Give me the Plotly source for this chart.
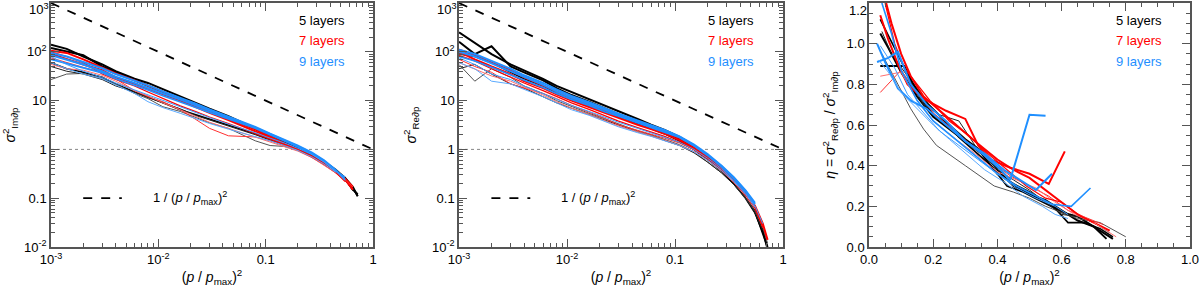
import plotly.graph_objects as go

# ---------------- data ----------------
X_LOG = [0.001, 0.0014, 0.002, 0.003, 0.004, 0.006, 0.008, 0.011, 0.016, 0.022, 0.03,
         0.045, 0.06, 0.08, 0.11, 0.15, 0.2, 0.27, 0.35, 0.45, 0.55, 0.65, 0.72]

IM_5 = [
    [140, 115, 80, 55, 40, 28, 23, 17, 12, 9, 6.8, 4.8, 3.6, 2.7, 1.9, 1.4, 1.05, 0.78, 0.56, 0.38, 0.26, 0.17, 0.11],
    [120, 100, 85, 50, 38, 26, 20, 15, 11, 8.3, 6.3, 4.4, 3.4, 2.6, 1.85, 1.35, 1.0, 0.74, 0.53, 0.36, 0.25, 0.15, 0.12],
    [60, 45, 38, 30, 22, 15, 12, 9, 6.5, 5.2, 4.2, 3.1, 2.6, 2.1, 1.6, 1.25, 0.97, 0.72, 0.52, 0.36, 0.24, 0.16, 0.11],
    [27, 35, 36, 28, 22, 14, 11, 7.5, 6, 4.5, 3.5, 2.7, 2.0, 1.5, 1.2, 1.15, 0.95, 0.72, 0.5, 0.34, 0.23, 0.15, None],
    [50, 40, 35, 27, 20, 15, 11.5, 9, 6.8, 5, 4, 3, 2.5, 2, 1.55, 1.2, 0.95, 0.7, 0.5, 0.35, 0.24, 0.14, None],
]
IM_7 = [
    [105, 95, 70, 48, 36, 26, 20, 15, 11, 8.3, 6.3, 4.4, 3.4, 2.6, 1.85, 1.35, 1.0, 0.72, 0.52, 0.35, 0.25, 0.17, None],
    [90, 70, 55, 42, 30, 22, 17.5, 13.5, 10, 7.5, 5.6, 4, 3.1, 2.4, 1.75, 1.3, 0.98, 0.7, 0.5, 0.34, 0.24, 0.15, None],
    [75, 60, 48, 38, 28, 16, 12, 9.5, 6.5, 4.2, 2.7, 1.9, 1.85, 1.8, 1.5, 1.2, 0.95, 0.7, 0.5, 0.34, 0.24, 0.17, None],
    [55, 45, 42, 33, 25, 16, 12.5, 9, 6.5, 4.8, 3.6, 2.7, 2.2, 1.8, 1.45, 1.15, 0.92, 0.68, 0.48, 0.33, 0.24, None, None],
    [100, 80, 60, 35, 27, 20, 15, 11, 7.8, 6, 4.6, 3.4, 2.7, 2.1, 1.6, 1.25, 0.97, 0.7, 0.5, 0.34, 0.22, None, None],
]
IM_9 = [
    [95, 80, 62, 46, 35, 26, 20.5, 15.5, 11.5, 8.7, 6.6, 4.7, 3.7, 2.9, 2.1, 1.6, 1.2, 0.86, 0.6, 0.38, 0.24, None, None],
    [85, 70, 55, 40, 31, 23, 18, 14, 10.5, 8, 6.1, 4.4, 3.5, 2.8, 2.05, 1.55, 1.15, 0.83, 0.58, 0.37, None, None, None],
    [70, 58, 48, 37, 28, 21, 16.5, 12.5, 9.5, 7.3, 5.7, 4.2, 3.4, 2.7, 2.0, 1.5, 1.12, 0.8, 0.56, 0.36, 0.27, None, None],
    [60, 45, 35, 28, 21, 14, 9.5, 7.2, 5.5, 4.3, 3.4, 2.6, 2.2, 1.85, 1.5, 1.2, 0.95, 0.7, 0.5, 0.34, None, None, None],
    [80, 55, 40, 30, 23, 16.5, 13, 10, 7.5, 5.8, 4.5, 3.3, 2.7, 2.2, 1.7, 1.35, 1.05, 0.78, 0.55, 0.36, 0.23, None, None],
]

RE_5 = [
    [250, 150, 90, 55, 42, 28, 20, 15, 11, 8, 6, 4.2, 3.2, 2.5, 1.8, 1.2, 0.72, 0.4, 0.22, 0.11, 0.055, 0.022, 0.009],
    [160, 90, 130, 50, 38, 26, 18, 13, 9.5, 7.2, 5.3, 3.7, 2.9, 2.3, 1.65, 1.1, 0.68, 0.38, 0.21, 0.11, 0.055, 0.02, 0.01],
    [90, 80, 60, 38, 28, 20, 14, 10.5, 7.8, 6, 4.7, 3.4, 2.7, 2.1, 1.5, 1.0, 0.62, 0.36, 0.2, 0.1, 0.05, 0.02, None],
    [55, 25, 45, 30, 20, 14, 10, 7.5, 5.5, 4.3, 3.3, 2.4, 2.0, 1.6, 1.25, 0.9, 0.55, 0.33, 0.19, 0.1, 0.055, 0.025, 0.012],
    [45, 55, 35, 22, 18, 12, 9, 7, 5.2, 4, 3.1, 2.3, 1.9, 1.55, 1.2, 0.85, 0.55, 0.33, 0.19, 0.1, 0.05, 0.022, None],
]
RE_7 = [
    [110, 85, 60, 42, 30, 20, 15.5, 11.5, 8.5, 6.4, 5, 3.6, 2.9, 2.3, 1.7, 1.15, 0.72, 0.42, 0.24, 0.13, 0.07, 0.03, 0.014],
    [100, 70, 50, 35, 25, 18, 13.5, 10, 7.4, 5.7, 4.4, 3.2, 2.6, 2.1, 1.55, 1.05, 0.68, 0.4, 0.23, 0.12, 0.065, 0.028, None],
    [70, 50, 38, 22, 18, 14, 11, 8, 5.8, 4.4, 3.2, 2.5, 2.1, 1.7, 1.35, 0.98, 0.64, 0.38, 0.22, 0.12, 0.065, 0.025, None],
    [60, 45, 32, 25, 19, 13, 9.5, 7, 5.2, 4, 3.0, 2.3, 1.9, 1.55, 1.2, 0.9, 0.6, 0.36, 0.21, 0.11, 0.06, None, None],
    [85, 65, 45, 30, 23, 16, 12, 9, 6.6, 5, 3.8, 2.8, 2.3, 1.85, 1.4, 1.0, 0.64, 0.38, 0.22, 0.12, 0.065, 0.025, None],
]
RE_9 = [
    [110, 90, 65, 45, 33, 23, 17, 12.5, 9.3, 7, 5.4, 3.9, 3.1, 2.5, 1.85, 1.25, 0.8, 0.46, 0.27, 0.145, 0.08, None, None],
    [100, 80, 58, 40, 30, 21, 15.5, 11.5, 8.6, 6.5, 5.1, 3.7, 3.0, 2.4, 1.8, 1.2, 0.77, 0.45, 0.26, 0.14, 0.075, None, None],
    [80, 65, 48, 34, 26, 18.5, 14, 10.5, 7.9, 6, 4.8, 3.5, 2.85, 2.3, 1.75, 1.18, 0.75, 0.44, 0.25, 0.135, None, None, None],
    [60, 45, 25, 22, 17, 12, 9, 6.5, 5, 3.8, 2.9, 2.2, 1.85, 1.5, 1.2, 0.9, 0.6, 0.37, 0.22, 0.12, 0.065, None, None],
    [75, 55, 35, 27, 20, 14, 10.5, 8, 6, 4.6, 3.6, 2.7, 2.2, 1.8, 1.4, 1.0, 0.66, 0.4, 0.23, 0.125, 0.07, 0.03, None],
]

# eta = Re/Im, each line with its own sampling
ETA_5_X = [
    [0.035, 0.06, 0.1, 0.15, 0.2, 0.25, 0.3, 0.35, 0.4, 0.45, 0.5, 0.55, 0.6, 0.65, 0.7, 0.76],
    [0.035, 0.11, 0.15, 0.2, 0.25, 0.3, 0.36, 0.4, 0.45, 0.5, 0.55, 0.6, 0.65, 0.7, 0.74],
    [0.035, 0.08, 0.13, 0.18, 0.23, 0.28, 0.33, 0.38, 0.43, 0.48, 0.53, 0.58, 0.62, 0.67, 0.72, 0.76],
    [0.04, 0.08, 0.13, 0.17, 0.21, 0.3, 0.39, 0.45, 0.5, 0.55, 0.6, 0.65, 0.72, 0.8],
    [0.04, 0.07, 0.12, 0.17, 0.22, 0.28, 0.33, 0.4, 0.45, 0.5, 0.55, 0.6, 0.65, 0.7, 0.75],
]
ETA_5_Y = [
    [1.05, 0.98, 0.86, 0.74, 0.64, 0.58, 0.52, 0.46, 0.36, 0.31, 0.27, 0.22, 0.17, 0.15, 0.1, 0.04],
    [0.89, 0.89, 0.76, 0.65, 0.6, 0.53, 0.46, 0.38, 0.3, 0.26, 0.23, 0.18, 0.13, 0.1, 0.04],
    [1.12, 0.98, 0.82, 0.71, 0.63, 0.54, 0.47, 0.4, 0.3, 0.27, 0.23, 0.19, 0.12, 0.12, 0.09, 0.05],
    [0.95, 0.83, 0.68, 0.58, 0.5, 0.4, 0.3, 0.27, 0.24, 0.2, 0.17, 0.14, 0.12, 0.05],
    [1.06, 0.95, 0.84, 0.7, 0.65, 0.62, 0.5, 0.38, 0.33, 0.28, 0.22, 0.16, 0.15, 0.12, 0.07],
]
ETA_7_X = [
    [0.05, 0.07, 0.1, 0.13, 0.17, 0.22, 0.27, 0.33, 0.4, 0.45, 0.5, 0.55, 0.6, 0.65, 0.7, 0.75],
    [0.035, 0.06, 0.09, 0.12, 0.17, 0.24, 0.3, 0.34, 0.38, 0.44, 0.5, 0.56, 0.61],
    [0.035, 0.1, 0.14, 0.2, 0.26, 0.32, 0.38, 0.44, 0.5, 0.56, 0.62, 0.68, 0.73],
    [0.035, 0.1, 0.15, 0.2, 0.27, 0.33, 0.4, 0.46, 0.52, 0.58, 0.64, 0.7, 0.77],
    [0.05, 0.08, 0.11, 0.15, 0.19, 0.25, 0.31, 0.37, 0.43, 0.49, 0.55, 0.6, 0.66, 0.7],
]
ETA_7_Y = [
    [1.22, 1.1, 0.95, 0.84, 0.74, 0.67, 0.6, 0.52, 0.43, 0.38, 0.34, 0.28, 0.22, 0.16, 0.12, 0.08],
    [1.14, 1.02, 0.9, 0.8, 0.73, 0.67, 0.63, 0.5, 0.43, 0.39, 0.36, 0.31, 0.47],
    [0.76, 0.87, 0.78, 0.66, 0.58, 0.5, 0.42, 0.35, 0.3, 0.25, 0.18, 0.14, 0.11],
    [0.84, 0.86, 0.72, 0.62, 0.53, 0.46, 0.37, 0.33, 0.29, 0.22, 0.16, 0.12, 0.05],
    [1.2, 1.0, 0.88, 0.8, 0.72, 0.62, 0.55, 0.46, 0.38, 0.3, 0.24, 0.22, 0.15, 0.12],
]
ETA_9_X = [
    [0.025, 0.06, 0.09, 0.13, 0.18, 0.24, 0.3, 0.36, 0.41, 0.44, 0.5, 0.55],
    [0.025, 0.05, 0.09, 0.13, 0.18, 0.24, 0.3, 0.36, 0.42, 0.47, 0.52, 0.57],
    [0.04, 0.07, 0.1, 0.15, 0.2, 0.27, 0.34, 0.4, 0.46, 0.52, 0.57, 0.63, 0.69],
    [0.03, 0.06, 0.1, 0.15, 0.2, 0.25, 0.3, 0.36, 0.42, 0.48, 0.54, 0.58, 0.62],
    [0.035, 0.08, 0.12, 0.17, 0.22, 0.28, 0.34, 0.4, 0.46, 0.52, 0.58, 0.62],
]
ETA_9_Y = [
    [0.91, 0.93, 0.96, 0.8, 0.7, 0.62, 0.52, 0.45, 0.38, 0.33, 0.65, 0.645],
    [1.0, 0.91, 0.78, 0.72, 0.68, 0.6, 0.52, 0.46, 0.38, 0.33, 0.28, 0.36],
    [1.2, 1.05, 0.87, 0.72, 0.62, 0.53, 0.44, 0.36, 0.3, 0.25, 0.21, 0.2, 0.29],
    [0.92, 0.86, 0.76, 0.68, 0.6, 0.53, 0.46, 0.38, 0.32, 0.25, 0.2, 0.16, 0.14],
    [0.99, 0.88, 0.75, 0.66, 0.57, 0.5, 0.43, 0.36, 0.29, 0.24, 0.2, 0.16],
]

REF_X = [0.001, 1.0]          # 1/(p/pmax)^2 reference line
REF_Y = [1000.0, 1.0]
UNITY = 1.0

LEGEND_LABELS = ["5 layers", "7 layers", "9 layers"]
X_LOG_TICKS = [0.001, 0.01, 0.1, 1]
X_LOG_TEXT = ["10<sup>-3</sup>", "10<sup>-2</sup>", "0.1", "1"]
Y_LOG_TICKS = [0.01, 0.1, 1, 10, 100, 1000]
Y_LOG_TEXT = ["10<sup>-2</sup>", "0.1", "1", "10", "10<sup>2</sup>", ""]
Y_LOG_TOP_TEXT = "10<sup>3</sup>"     # top label, nudged down inside the page
ETA_TICKS = [0.0, 0.2, 0.4, 0.6, 0.8, 1.0, 1.2]
ETA_TEXT = ["0.0", "0.2", "0.4", "0.6", "0.8", "1.0", ""]
ETA_TOP_TEXT = "1.2"
XLIN_TICKS = [0.0, 0.2, 0.4, 0.6, 0.8, 1.0]
XLIN_TEXT = ["0.0", "0.2", "0.4", "0.6", "0.8", "1.0"]

# ---------------- styles ----------------
BLACK, RED, BLUE = "#000000", "#ff0000", "#1f8fff"
STY_5 = [(BLACK, 2.0), (BLACK, 2.0), (BLACK, 1.6), ("#555555", 1.0), ("#222222", 1.0)]
STY_7 = [(RED, 2.0), (RED, 2.0), ("#ff3030", 1.0), ("#ff7070", 1.0), (RED, 1.2)]
STY_9 = [(BLUE, 2.0), (BLUE, 2.0), (BLUE, 1.6), ("#5aaaff", 1.0), ("#3d9cff", 1.0)]
FONT = "Liberation Sans, Arial, Helvetica, sans-serif"
AXC = "#555555"
EPS = 1e-4

fig = go.Figure()


def add_lines(xs_list, ys_list, styles, xa, ya):
    for xs, ys, (c, w) in zip(xs_list, ys_list, styles):
        fig.add_trace(go.Scatter(x=xs, y=ys, mode="lines", line=dict(color=c, width=w),
                                 xaxis=xa, yaxis=ya, showlegend=False, hoverinfo="skip",
                                 connectgaps=False))


for (sets, xa, ya) in [((IM_5, IM_7, IM_9), "x", "y"), ((RE_5, RE_7, RE_9), "x2", "y2")]:
    fig.add_trace(go.Scatter(x=REF_X, y=[UNITY, UNITY], mode="lines",
                             line=dict(color="#888888", width=1, dash="dot"),
                             xaxis=xa, yaxis=ya, showlegend=False, hoverinfo="skip"))
    fig.add_trace(go.Scatter(x=REF_X, y=REF_Y, mode="lines",
                             line=dict(color="black", width=1.8, dash="dash"),
                             xaxis=xa, yaxis=ya, showlegend=False, hoverinfo="skip"))
    for s, sty in zip(sets, (STY_5, STY_7, STY_9)):
        add_lines([X_LOG] * len(s), s, sty, xa, ya)

for xs, ys, sty in [(ETA_5_X, ETA_5_Y, STY_5), (ETA_7_X, ETA_7_Y, STY_7), (ETA_9_X, ETA_9_Y, STY_9)]:
    add_lines(xs, ys, sty, "x3", "y3")

W, H = 1200, 292
YDOM = [45 / H, 289 / H]
doms = [[51 / W, 373 / W], [459 / W, 783 / W], [869 / W, 1190 / W]]

log_minor = [k * 10.0 ** e for e in range(-3, 3) for k in range(2, 10)]

common = dict(showline=True, linecolor=AXC, linewidth=1.5, mirror="allticks", ticks="inside",
              ticklen=8, tickwidth=1.2, tickcolor=AXC, showgrid=False, zeroline=False,
              tickfont=dict(family=FONT, size=13, color="black"), tickmode="array",
              ticklabeloverflow="allow", automargin=False)

xtitle = dict(text="(<i>p</i> / <i>p</i><sub>max</sub>)<sup>2</sup>",
              font=dict(family=FONT, size=14, color="black"), standoff=6)

minor_log = dict(ticks="inside", ticklen=4, tickwidth=1, tickcolor=AXC, tickmode="array",
                 tickvals=log_minor, showgrid=False)
minor_lin = dict(ticks="inside", ticklen=4, tickwidth=1, tickcolor=AXC, tickmode="linear",
                 tick0=0, dtick=0.05, showgrid=False)

layout = dict(width=W, height=H, margin=dict(l=0, r=0, t=0, b=0, autoexpand=False),
              plot_bgcolor="white", paper_bgcolor="white", showlegend=False)

for i, (xa, ya) in enumerate([("xaxis", "yaxis"), ("xaxis2", "yaxis2")]):
    ytxt = "<i>σ</i><sup>2</sup><sub>Im∂p</sub>" if i == 0 else "<i>σ</i><sup>2</sup><sub>Re∂p</sub>"
    layout[xa] = dict(common, type="log", range=[-3 - EPS, 0 + EPS], domain=doms[i],
                      anchor="y" if i == 0 else "y2", minor=minor_log, title=xtitle,
                      tickvals=X_LOG_TICKS, ticktext=X_LOG_TEXT)
    layout[ya] = dict(common, type="log", range=[-2 - EPS, 3 + EPS], domain=YDOM,
                      anchor="x" if i == 0 else "x2", minor=minor_log,
                      tickvals=Y_LOG_TICKS, ticktext=Y_LOG_TEXT,
                      title=dict(text=ytxt, font=dict(family=FONT, size=14, color="black"), standoff=12))

layout["xaxis3"] = dict(common, range=[0 - EPS, 1 + EPS], domain=doms[2], anchor="y3",
                        tickvals=XLIN_TICKS, ticktext=XLIN_TEXT, minor=minor_lin, title=xtitle)
layout["yaxis3"] = dict(common, range=[0 - EPS, 1.2 + EPS], domain=YDOM, anchor="x3",
                        tickvals=ETA_TICKS, ticktext=ETA_TEXT, minor=minor_lin,
                        title=dict(text="<i>η</i> = <i>σ</i><sup>2</sup><sub>Re∂p</sub> / <i>σ</i><sup>2</sup><sub>Im∂p</sub>",
                                   font=dict(family=FONT, size=14, color="black"), standoff=8))

fig.update_layout(**layout)

annos = []
shapes = []
for k, (xr, yr) in enumerate([("x domain", "y domain"), ("x2 domain", "y2 domain"), ("x3 domain", "y3 domain")]):
    for j, (lab, col) in enumerate(zip(LEGEND_LABELS, (BLACK, RED, BLUE))):
        annos.append(dict(xref=xr, yref=yr, x=0.918, y=0.93 - j * 0.084, xanchor="right", yanchor="middle",
                          text=lab, showarrow=False, font=dict(family=FONT, size=13, color=col)))
    # top y tick label, nudged so it stays inside the page
    annos.append(dict(xref=xr, yref=yr, x=0, y=1, xanchor="right", yanchor="top", xshift=-1,
                      yshift=3 if k < 2 else 1, text=Y_LOG_TOP_TEXT if k < 2 else ETA_TOP_TEXT,
                      showarrow=False, borderpad=0, font=dict(family=FONT, size=13, color="black")))
    if k < 2:
        shapes.append(dict(type="line", xref=xr, yref=yr, x0=0.10, x1=0.22, y0=0.2, y1=0.2,
                           line=dict(color="black", width=1.8, dash="dash")))
        annos.append(dict(xref=xr, yref=yr, x=0.31, y=0.2, xanchor="left", yanchor="middle",
                          text="1 / (<i>p</i> / <i>p</i><sub>max</sub>)<sup>2</sup>", showarrow=False,
                          font=dict(family=FONT, size=13, color="black")))
fig.update_layout(annotations=annos, shapes=shapes)

fig.write_html("out.html", config={"displayModeBar": False},
               post_script="document.body.style.margin='0';document.body.style.overflow='hidden';")
